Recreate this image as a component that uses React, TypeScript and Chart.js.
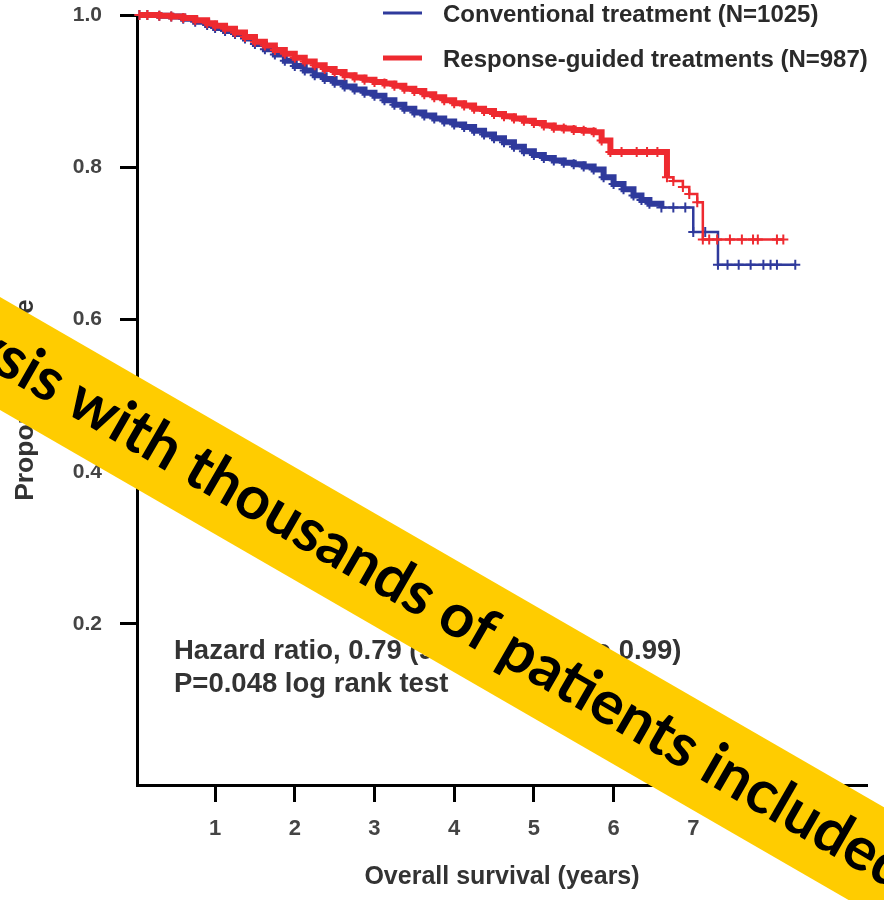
import { useEffect, useRef } from "react";
import { Chart, registerables } from "chart.js";

Chart.register(...registerables);

// ---- data ----
const CONV_LABEL = "Conventional treatment (N=1025)";
const GUIDED_LABEL = "Response-guided treatments (N=987)";

const CONV_T = [0.05, 0.15, 0.3, 0.45, 0.6, 0.75, 0.9, 1.0, 1.125, 1.25, 1.375, 1.5, 1.625, 1.75, 1.875, 2.0, 2.125, 2.25, 2.375, 2.5, 2.625, 2.75, 2.875, 3.0, 3.125, 3.25, 3.375, 3.5, 3.625, 3.75, 3.875, 4.0, 4.125, 4.25, 4.375, 4.5, 4.625, 4.75, 4.875, 5.0, 5.125, 5.25, 5.375, 5.5, 5.625, 5.75, 5.875, 6.0, 6.125, 6.25, 6.35, 6.45, 6.6, 6.75, 6.9, 7.0, 7.15, 7.31, 7.43, 7.57, 7.72, 7.88, 7.97, 8.05, 8.28];
const CONV_S = [1.0, 1.0, 0.999, 0.998, 0.995, 0.991, 0.987, 0.983, 0.979, 0.975, 0.969, 0.962, 0.955, 0.948, 0.94, 0.933, 0.927, 0.921, 0.916, 0.911, 0.906, 0.902, 0.898, 0.894, 0.888, 0.882, 0.877, 0.872, 0.868, 0.864, 0.86, 0.856, 0.853, 0.848, 0.843, 0.838, 0.833, 0.827, 0.821, 0.816, 0.812, 0.809, 0.806, 0.804, 0.801, 0.797, 0.787, 0.778, 0.771, 0.763, 0.757, 0.752, 0.747, 0.747, 0.747, 0.715, 0.715, 0.672, 0.672, 0.672, 0.672, 0.672, 0.672, 0.672, 0.672];

const GUIDED_T = [0.05, 0.15, 0.3, 0.45, 0.6, 0.75, 0.9, 1.0, 1.125, 1.25, 1.375, 1.5, 1.625, 1.75, 1.875, 2.0, 2.125, 2.25, 2.375, 2.5, 2.625, 2.75, 2.875, 3.0, 3.125, 3.25, 3.375, 3.5, 3.625, 3.75, 3.875, 4.0, 4.125, 4.25, 4.375, 4.5, 4.625, 4.75, 4.875, 5.0, 5.125, 5.25, 5.375, 5.5, 5.625, 5.75, 5.85, 5.96, 6.1, 6.29, 6.42, 6.55, 6.67, 6.75, 6.87, 6.95, 7.05, 7.12, 7.2, 7.3, 7.46, 7.61, 7.75, 7.81, 8.05, 8.13];
const GUIDED_S = [1.0, 1.0, 0.999, 0.998, 0.996, 0.993, 0.989, 0.986, 0.982, 0.977, 0.971, 0.965, 0.96, 0.954, 0.949, 0.944, 0.939, 0.934, 0.929, 0.925, 0.921, 0.918, 0.915, 0.912, 0.91, 0.907, 0.903, 0.9, 0.896, 0.892, 0.888, 0.884, 0.881, 0.877, 0.874, 0.87, 0.867, 0.864, 0.861, 0.858, 0.855, 0.852, 0.851, 0.849, 0.848, 0.846, 0.835, 0.82, 0.82, 0.82, 0.82, 0.82, 0.787, 0.782, 0.774, 0.765, 0.754, 0.705, 0.705, 0.705, 0.705, 0.705, 0.705, 0.705, 0.705, 0.705];

const X_TICKS = [1, 2, 3, 4, 5, 6, 7, 8];
const Y_TICKS = [0.2, 0.4, 0.6, 0.8, 1.0];
const X_TITLE = "Overall survival (years)";
const Y_TITLE = "Proportion alive";
const STATS_LINES = ["Hazard ratio, 0.79 (95% CI, 0.63 to 0.99)", "P=0.048 log rank test"];
const BANNER_TEXT = "Meta-analysis with thousands of patients included";

// ---- styles ----
const BLUE = "#2f3a9c";
const RED = "#ee2a30";
const TEXT = "#333333";
const FONT = "'Liberation Sans', Arial, sans-serif";

const toPts = (T: number[], S: number[]) => T.map((t, i) => ({ x: t, y: S[i] }));

const overlayPlugin = {
  id: "overlay",
  afterDraw(chart: any) {
    const { ctx, chartArea } = chart;
    ctx.save();
    // statistics text
    ctx.fillStyle = TEXT;
    ctx.font = `bold 27.5px ${FONT}`;
    ctx.textBaseline = "middle";
    ctx.textAlign = "left";
    STATS_LINES.forEach((t, i) => ctx.fillText(t, chartArea.left + 37, 651 + i * 33));

    // legend
    const legendItems = [
      { ds: chart.data.datasets[0], y: 13, w: 3 },
      { ds: chart.data.datasets[1], y: 58, w: 5 },
    ];
    ctx.font = `bold 24px ${FONT}`;
    legendItems.forEach(({ ds, y, w }) => {
      ctx.strokeStyle = ds.borderColor;
      ctx.lineWidth = w;
      ctx.beginPath();
      ctx.moveTo(383, y);
      ctx.lineTo(422, y);
      ctx.stroke();
      ctx.fillStyle = "#2a2a2a";
      ctx.fillText(ds.label, 443, y + 2);
    });
    ctx.restore();

    // banner
    ctx.save();
    ctx.translate(0, 353.5);
    ctx.rotate(Math.PI / 6);
    ctx.fillStyle = "#FFCC00";
    ctx.fillRect(-400, -49, 1800, 98);
    ctx.font = "bold 100px Lato, 'Open Sans', sans-serif";
    const w100 = ctx.measureText("with thousands of patients inclu").width;
    const size = (100 * 860) / w100;
    ctx.font = `bold ${size}px Lato, 'Open Sans', sans-serif`;
    const pre = ctx.measureText("Meta-analysis ").width;
    ctx.fillStyle = "#000";
    ctx.textBaseline = "alphabetic";
    ctx.textAlign = "left";
    ctx.fillText(BANNER_TEXT, 84 - pre, 3 + 0.26 * size);
    ctx.restore();
  },
};

export default function App() {
  const ref = useRef<HTMLCanvasElement | null>(null);

  useEffect(() => {
    if (!ref.current) return;
    const thick = (limit: number) => (c: any) => (c.p0.parsed.x >= limit ? 2.5 : 6);
    const common = {
      stepped: "before",
      borderWidth: 6,
      pointStyle: "cross",
      pointRadius: 5,
      pointBorderWidth: 2,
      fill: false,
      clip: false,
    };
    const chart = new Chart(ref.current, {
      type: "line",
      data: {
        datasets: [
          {
            ...common,
            label: CONV_LABEL,
            data: toPts(CONV_T, CONV_S),
            borderColor: BLUE,
            backgroundColor: BLUE,
            pointBorderColor: BLUE,
            segment: { borderWidth: thick(6.6) },
            order: 1,
          } as any,
          {
            ...common,
            label: GUIDED_LABEL,
            data: toPts(GUIDED_T, GUIDED_S),
            borderColor: RED,
            backgroundColor: RED,
            pointBorderColor: RED,
            segment: { borderWidth: thick(6.6) },
            order: 0,
          } as any,
        ],
      },
      options: {
        animation: false,
        responsive: true,
        maintainAspectRatio: false,
        layout: { padding: { top: 15, right: 17, left: 0, bottom: 0 } },
        plugins: { legend: { display: false }, tooltip: { enabled: false } },
        scales: {
          x: {
            type: "linear",
            min: 0.02,
            max: 9.18,
            afterFit: (s: any) => {
              s.height = 115;
              s.paddingLeft = 0;
              s.paddingRight = 0;
            },
            afterBuildTicks: (s: any) => {
              s.ticks = X_TICKS.map((v) => ({ value: v }));
            },
            ticks: {
              color: "#444",
              font: { family: FONT, size: 22, weight: "bold" },
              padding: 14,
              callback: (v: any) => String(v),
            },
            grid: {
              drawOnChartArea: false,
              drawTicks: true,
              tickLength: 17,
              tickWidth: 3,
              tickColor: "#000",
            },
            border: { display: true, color: "#000", width: 3 },
            title: {
              display: true,
              text: X_TITLE,
              color: TEXT,
              font: { family: FONT, size: 25, weight: "bold", lineHeight: 1.2 },
              padding: { top: 0, bottom: 8 },
            },
          },
          y: {
            type: "linear",
            min: -0.0115,
            max: 1.0,
            afterFit: (s: any) => {
              s.width = 137;
              s.paddingTop = 0;
              s.paddingBottom = 0;
            },
            afterBuildTicks: (s: any) => {
              s.ticks = Y_TICKS.map((v) => ({ value: v }));
            },
            ticks: {
              color: "#444",
              font: { family: FONT, size: 21, weight: "bold" },
              padding: 18,
              callback: (v: any) => Number(v).toFixed(1),
            },
            grid: {
              drawOnChartArea: false,
              drawTicks: true,
              tickLength: 17,
              tickWidth: 3,
              tickColor: "#000",
            },
            border: { display: true, color: "#000", width: 3 },
            title: {
              display: true,
              text: Y_TITLE,
              color: TEXT,
              font: { family: FONT, size: 26.5, weight: "bold", lineHeight: 1.2 },
              padding: { top: 10, bottom: 0 },
            },
          },
        },
      },
      plugins: [overlayPlugin],
    });
    return () => chart.destroy();
  }, []);

  return (
    <div style={{ position: "fixed", left: 0, top: 0, width: 884, height: 900, background: "#fff" }}>
      <canvas ref={ref} />
    </div>
  );
}
